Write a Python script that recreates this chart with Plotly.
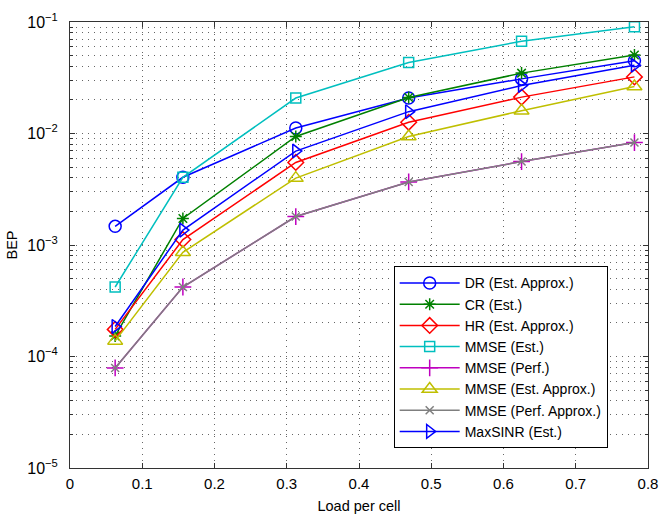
import plotly.graph_objects as go

load = [2/32, 5/32, 10/32, 15/32, 20/32, 25/32]

names = ["DR (Est. Approx.)", "CR (Est.)", "HR (Est. Approx.)", "MMSE (Est.)",
         "MMSE (Perf.)", "MMSE (Est. Approx.)", "MMSE (Perf. Approx.)", "MaxSINR (Est.)"]

dr = [1.47e-3, 4.05e-3, 1.12e-2, 2.08e-2, 3.09e-2, 4.5e-2]
cr = [1.53e-4, 1.73e-3, 9.4e-3, 2.1e-2, 3.48e-2, 5.05e-2]
hr = [1.75e-4, 1.12e-3, 5.5e-3, 1.26e-2, 2.12e-2, 3.22e-2]
mmse_est = [4.2e-4, 4.05e-3, 2.08e-2, 4.34e-2, 6.72e-2, 9.05e-2]
mmse_perf = [7.9e-5, 4.2e-4, 1.8e-3, 3.68e-3, 5.6e-3, 8.3e-3]
mmse_est_approx = [1.38e-4, 8.6e-4, 3.98e-3, 9.4e-3, 1.6e-2, 2.64e-2]
mmse_perf_approx = [7.9e-5, 4.2e-4, 1.8e-3, 3.68e-3, 5.6e-3, 8.3e-3]
maxsinr = [1.86e-4, 1.36e-3, 6.96e-3, 1.57e-2, 2.69e-2, 4.09e-2]

y_tickvals = [1e-5, 1e-4, 1e-3, 1e-2, 1e-1]
y_ticktext = ["10<sup>−5</sup>", "10<sup>−4</sup>", "10<sup>−3</sup>", "10<sup>−2</sup>", "10<sup>−1</sup>"]
y_minorvals = [m * d for d in [1e-5, 1e-4, 1e-3, 1e-2] for m in range(2, 10)]

series = [dr, cr, hr, mmse_est, mmse_perf, mmse_est_approx, mmse_perf_approx, maxsinr]
colors = ["#0000ff", "#008000", "#ff0000", "#00bfbf", "#bf00bf", "#bfbf00", "#7f7f7f", "#0000ff"]
symbols = ["circle-open", "asterisk-open", "diamond-open", "square-open",
           "cross-thin-open", "triangle-up-open", "x-thin-open", "triangle-right-open"]
sizes = [12, 10, 12, 10, 12, 13, 8, 12]

fig = go.Figure()
for n, ys, c, s, sz in zip(names, series, colors, symbols, sizes):
    fig.add_trace(go.Scatter(
        x=load, y=ys, name=n, mode="lines+markers",
        line=dict(color=c, width=1.5),
        marker=dict(symbol=s, size=sz, color=c, line=dict(color=c, width=1.5)),
    ))

font = "Liberation Sans, Arial, Helvetica, sans-serif"
grid = dict(gridcolor="#666", griddash="1px,5px", gridwidth=1)
fig.update_layout(
    width=669, height=522,
    margin=dict(l=69, r=11, t=14, b=45),
    paper_bgcolor="white", plot_bgcolor="white",
    font=dict(family=font, size=14, color="black"),
    showlegend=True,
    legend=dict(x=0.56, y=0.452, xanchor="left", yanchor="top",
                bordercolor="black", borderwidth=1, bgcolor="white",
                font=dict(size=14), tracegroupgap=0, itemwidth=60),
    xaxis=dict(
        range=[0, 0.8], dtick=0.1, tick0=0,
        showline=True, linecolor="#333", linewidth=1, mirror="allticks",
        ticks="inside", ticklen=5, tickcolor="#333",
        showgrid=True, **grid,
        zeroline=False,
        title=dict(text="Load per cell", font=dict(size=14.5), standoff=9),
        tickfont=dict(size=15), ticklabelstandoff=2,
    ),
    yaxis=dict(
        type="log", range=[-5.0001, -0.9999],
        tickmode="array", tickvals=y_tickvals, ticktext=y_ticktext,
        showline=True, linecolor="#333", linewidth=1, mirror="allticks",
        ticks="inside", ticklen=5, tickcolor="#333",
        showgrid=True, **grid,
        minor=dict(tickmode="array", tickvals=y_minorvals,
                   showgrid=True, gridcolor="#666", griddash="1px,5px",
                   ticks="inside", ticklen=3, tickcolor="#333"),
        zeroline=False,
        title=dict(text="BEP", font=dict(size=14.5), standoff=6),
        tickfont=dict(size=16), ticklabelstandoff=8,
    ),
)

fig.write_html("out.html")
